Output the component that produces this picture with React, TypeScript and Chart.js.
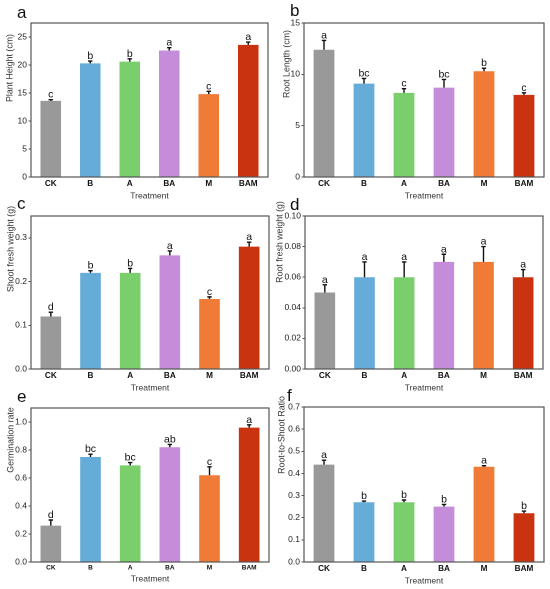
import React, { useRef, useEffect } from 'react';
import { Chart, registerables } from 'chart.js';

Chart.register(...registerables);

const FONT = '"Liberation Sans", Arial, sans-serif';

const treatments = ['CK', 'B', 'A', 'BA', 'M', 'BAM'];
const barColors = ['#999999', '#66acd8', '#7acf6c', '#c58cd9', '#ef7b36', '#c9330f'];

// a: plant height
const plantHeight = [13.6, 20.3, 20.6, 22.6, 14.8, 23.6];
const plantHeightErr = [0.2, 0.4, 0.5, 0.5, 0.5, 0.5];
const plantHeightSig = ['c', 'b', 'b', 'a', 'c', 'a'];

// b: root length
const rootLength = [12.4, 9.1, 8.2, 8.7, 10.3, 8.0];
const rootLengthErr = [0.9, 0.5, 0.4, 0.8, 0.3, 0.2];
const rootLengthSig = ['a', 'bc', 'c', 'bc', 'b', 'c'];

// c: shoot fresh weight
const shootWeight = [0.12, 0.22, 0.22, 0.26, 0.16, 0.28];
const shootWeightErr = [0.01, 0.005, 0.01, 0.01, 0.005, 0.01];
const shootWeightSig = ['d', 'b', 'b', 'a', 'c', 'a'];

// d: root fresh weight
const rootWeight = [0.05, 0.06, 0.06, 0.07, 0.07, 0.06];
const rootWeightErr = [0.005, 0.01, 0.01, 0.005, 0.01, 0.005];
const rootWeightSig = ['a', 'a', 'a', 'a', 'a', 'a'];

// e: germination rate
const germRate = [0.26, 0.75, 0.69, 0.82, 0.62, 0.96];
const germRateErr = [0.04, 0.02, 0.02, 0.02, 0.06, 0.02];
const germRateSig = ['d', 'bc', 'bc', 'ab', 'c', 'a'];

// f: root-to-shoot ratio
const rsRatio = [0.44, 0.27, 0.27, 0.25, 0.43, 0.22];
const rsRatioErr = [0.02, 0.005, 0.01, 0.01, 0.005, 0.01];
const rsRatioSig = ['a', 'b', 'b', 'b', 'a', 'b'];

interface PanelProps {
  letter: string;
  yTitle: string;
  values: number[];
  errors: number[];
  sig: string[];
  yMax: number;
  yStep: number;
  decimals: number;
  // layout in page pixels
  colX: number;
  rowTop: number;
  plot: [number, number, number, number]; // left, right, top, bottom
  yTitlePos: [number, number]; // centre of rotated title
  xTitleY: number;
  letterPos: [number, number];
  xTickSize?: number;
}

// error bars (upper half only), significance letters, y title and the box frame
const frameAndErrors = {
  id: 'frameAndErrors',
  afterDatasetsDraw(chart: any) {
    const { ctx, chartArea } = chart;
    const extra = chart.options.plugins.frameAndErrors;
    const meta = chart.getDatasetMeta(0);
    const yScale = chart.scales.y;
    ctx.save();
    meta.data.forEach((bar: any, i: number) => {
      const top = yScale.getPixelForValue(extra.values[i] + extra.errors[i]);
      ctx.strokeStyle = '#111';
      ctx.lineWidth = 1.4;
      ctx.beginPath();
      ctx.moveTo(bar.x, bar.y);
      ctx.lineTo(bar.x, top);
      ctx.moveTo(bar.x - 2.2, top);
      ctx.lineTo(bar.x + 2.2, top);
      ctx.stroke();
      ctx.fillStyle = '#111';
      ctx.font = `10.5px ${FONT}`;
      ctx.textAlign = 'center';
      ctx.textBaseline = 'alphabetic';
      ctx.fillText(extra.sig[i], bar.x, top - 2);
    });
    ctx.strokeStyle = '#555';
    ctx.lineWidth = 1.2;
    ctx.strokeRect(chartArea.left, chartArea.top, chartArea.right - chartArea.left, chartArea.bottom - chartArea.top);

    ctx.translate(extra.titleX, extra.titleY);
    ctx.rotate(-Math.PI / 2);
    ctx.fillStyle = '#333';
    ctx.font = `8.8px ${FONT}`;
    ctx.textAlign = 'center';
    ctx.textBaseline = 'middle';
    ctx.fillText(extra.title, 0, 0);
    ctx.restore();
  },
};

function Panel(p: PanelProps) {
  const canvasRef = useRef<HTMLCanvasElement>(null);
  const width = 275;
  const bottom = p.xTitleY + 6;
  const height = bottom - p.rowTop;
  const [pl, pr, pt, pb] = p.plot;

  useEffect(() => {
    const canvas = canvasRef.current;
    if (!canvas) return;
    const chart = new Chart(canvas, {
      type: 'bar',
      data: {
        labels: treatments,
        datasets: [{
          data: p.values,
          backgroundColor: barColors,
          borderWidth: 0,
          barPercentage: 0.52,
          categoryPercentage: 1,
        }],
      },
      options: {
        animation: false,
        responsive: false,
        devicePixelRatio: 2,
        layout: { padding: { top: pt - p.rowTop, right: p.colX + width - pr, left: 0, bottom: 0 } },
        plugins: {
          legend: { display: false },
          tooltip: { enabled: false },
          frameAndErrors: {
            values: p.values, errors: p.errors, sig: p.sig, title: p.yTitle,
            titleX: p.yTitlePos[0] - p.colX, titleY: p.yTitlePos[1] - p.rowTop,
          },
        } as any,
        scales: {
          x: {
            grid: { display: false, drawTicks: false },
            border: { display: false },
            ticks: { color: '#111', padding: 2, font: { family: FONT, size: p.xTickSize ?? 8.2, weight: 'bold' } },
            title: {
              display: true, text: 'Treatment', color: '#333',
              font: { family: FONT, size: 8.5, lineHeight: 1.2 },
              padding: { top: 0, bottom: 0.9 },
            },
            afterFit: (s: any) => { s.height = bottom - pb; },
          },
          y: {
            min: 0,
            max: p.yMax,
            grid: { drawOnChartArea: false, drawTicks: true, tickLength: 2.5, color: '#555' },
            border: { display: false },
            afterBuildTicks: (s: any) => {
              s.ticks = s.ticks.filter((t: any) => Math.abs(t.value / p.yStep - Math.round(t.value / p.yStep)) < 1e-6);
            },
            ticks: {
              stepSize: p.yStep,
              color: '#222',
              padding: 1.5,
              font: { family: FONT, size: 8.5 },
              callback: (v: any) => Number(v).toFixed(p.decimals),
            },
            afterFit: (s: any) => { s.width = pl - p.colX; },
          },
        },
      },
      plugins: [frameAndErrors],
    });
    return () => chart.destroy();
  }, []);

  return (
    <>
      <div style={{ position: 'absolute', left: p.colX, top: p.rowTop, width, height }}>
        <canvas ref={canvasRef} width={width} height={height} style={{ width, height }} />
      </div>
      <div style={{
        position: 'absolute', left: p.letterPos[0], top: p.letterPos[1],
        fontFamily: FONT, fontSize: 17, lineHeight: '17px', color: '#111',
      }}>{p.letter}</div>
    </>
  );
}

export default function App() {
  return (
    <div style={{ position: 'absolute', left: 0, top: 0, width: 550, height: 589, background: '#fff', overflow: 'hidden' }}>
      <Panel letter="a" yTitle="Plant Height (cm)" values={plantHeight} errors={plantHeightErr} sig={plantHeightSig}
        yMax={27.5} yStep={5} decimals={0} colX={0} rowTop={0} plot={[31, 268, 23, 177]}
        yTitlePos={[10, 68]} xTitleY={196} letterPos={[17, 4]} />
      <Panel letter="b" yTitle="Root Length (cm)" values={rootLength} errors={rootLengthErr} sig={rootLengthSig}
        yMax={15} yStep={5} decimals={0} colX={275} rowTop={0} plot={[304, 544, 23, 177]}
        yTitlePos={[287, 64]} xTitleY={196} letterPos={[290, 2]} />
      <Panel letter="c" yTitle="Shoot fresh weight (g)" values={shootWeight} errors={shootWeightErr} sig={shootWeightSig}
        yMax={0.35} yStep={0.1} decimals={1} colX={0} rowTop={196} plot={[31, 269, 216, 369]}
        yTitlePos={[11, 249]} xTitleY={388} letterPos={[17, 195]} />
      <Panel letter="d" yTitle="Root fresh weight (g)" values={rootWeight} errors={rootWeightErr} sig={rootWeightSig}
        yMax={0.1} yStep={0.02} decimals={2} colX={275} rowTop={196} plot={[305, 543, 216, 369]}
        yTitlePos={[280, 242]} xTitleY={388} letterPos={[290, 196]} />
      <Panel letter="e" yTitle="Germination rate" values={germRate} errors={germRateErr} sig={germRateSig}
        yMax={1.1} yStep={0.2} decimals={1} colX={0} rowTop={390} plot={[31, 269, 408, 562]}
        yTitlePos={[11, 440]} xTitleY={579} letterPos={[17, 388]} xTickSize={6.5} />
      <Panel letter="f" yTitle="Root-to-Shoot Ratio" values={rsRatio} errors={rsRatioErr} sig={rsRatioSig}
        yMax={0.7} yStep={0.1} decimals={1} colX={275} rowTop={390} plot={[304, 544, 407, 562]}
        yTitlePos={[282, 435]} xTitleY={581} letterPos={[287, 387]} />
    </div>
  );
}
